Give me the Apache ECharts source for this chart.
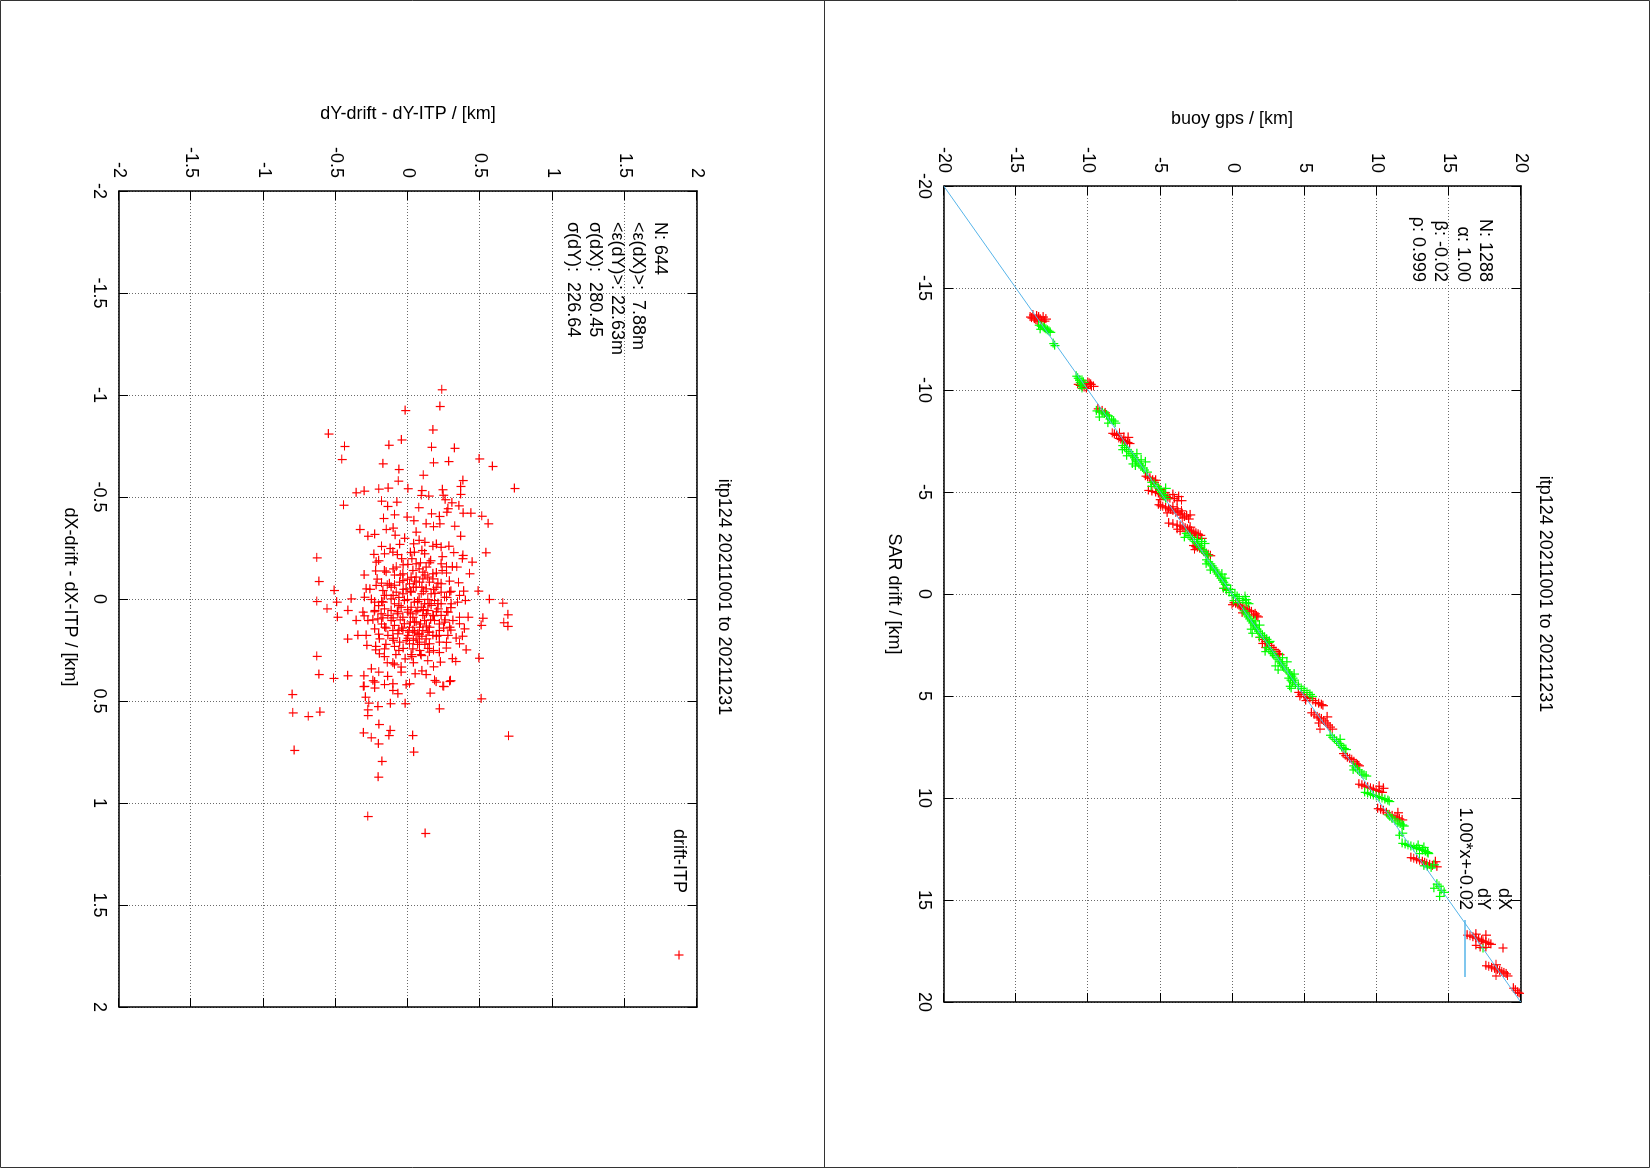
<!DOCTYPE html>
<html>
<head>
<meta charset="utf-8">
<script src="https://cdn.jsdelivr.net/npm/echarts@6/dist/echarts.min.js"></script>
<style>
html,body{margin:0;padding:0;background:#fff;overflow:hidden;width:1650px;height:1168px;}
#page{position:absolute;left:0;top:0;width:1168px;height:1650px;transform-origin:0 0;transform:translate(1650px,0) rotate(90deg);background:#fff;}
</style>
</head>
<body>
<div id="page"></div>
<script>
// ---------------- DATA ----------------
const titleText = "itp124 20211001 to 20211231";
const topTicks = [-20, 20, 5];
const bottomTicks = [-2, 2, 0.5];
const topStats = ["N: 1288", "\u03b1: 1.00", "\u03b2: -0.02", "\u03c1: 0.999"];
const bottomStats = ["N: 644", "<\u03b5(dX)>:  7.88m", "<\u03b5(dY)>: 22.63m", "\u03c3(dX):  280.45", "\u03c3(dY):  226.64"];
const topLegend = ["dX", "dY", "1.00*x+-0.02"];
const bottomLegend = ["drift-ITP"];
// fit line y = 1.00*x - 0.02 (endpoints)
const fitLine = [[-20, -20.02], [20, 19.98]];
// SAR drift (x) vs buoy gps (y), dX series
const dXPts = [
[-13.6,-14.0],[-13.5,-13.7],[-13.6,-13.4],[-13.4,-13.2],[-13.5,-12.9],[-13.7,-13.8],[-13.4,-13.5],
[-13.55,-13.9],[-13.45,-13.6],[-13.5,-13.3],[-13.6,-13.1],[-13.4,-13.0],[-13.65,-13.55],
[-10.3,-10.7],[-10.2,-10.4],[-10.1,-10.1],[-10.3,-9.8],[-10.2,-9.6],[-10.4,-10.0],
[-10.25,-10.55],[-10.15,-10.25],[-10.35,-9.9],[-10.2,-9.75],[-10.3,-10.2],
[-9.1,-9.3],[-9.0,-9.0],[-8.9,-8.8],
[-7.9,-8.3],[-7.8,-8.0],[-7.6,-7.7],[-7.5,-7.4],[-7.4,-7.1],[-7.7,-7.5],[-7.9,-7.8],
[-7.85,-8.15],[-7.65,-7.85],[-7.55,-7.55],[-7.45,-7.25],[-7.7,-7.2],
[-5.8,-6.0],[-5.7,-5.7],[-5.5,-5.4],[-5.6,-5.5],[-5.75,-5.85],[-5.6,-5.3],
[-5.1,-5.8],[-5.0,-5.3],[-4.9,-4.9],[-4.8,-4.6],[-4.7,-4.3],[-4.9,-4.1],[-4.6,-3.8],[-4.6,-3.5],[-5.0,-4.7],
[-5.05,-5.55],[-4.95,-5.1],[-4.85,-4.75],[-4.75,-4.45],[-4.7,-4.0],[-4.8,-3.7],[-4.65,-5.0],[-5.15,-5.0],
[-4.4,-5.1],[-4.3,-4.8],[-4.2,-4.4],[-4.1,-4.1],[-4.0,-3.9],[-3.9,-3.6],[-3.8,-3.3],[-3.7,-3.0],[-4.1,-3.5],[-4.0,-4.5],[-3.9,-2.9],
[-4.35,-4.95],[-4.25,-4.6],[-4.15,-4.25],[-4.05,-3.75],[-3.95,-3.45],[-3.85,-3.15],[-4.2,-3.8],[-3.75,-3.45],[-4.3,-4.1],
[-3.5,-4.4],[-3.4,-3.8],[-3.3,-3.4],[-3.2,-3.1],[-3.1,-2.8],[-3.0,-2.5],[-2.9,-2.2],[-2.8,-2.6],[-3.3,-2.9],[-3.1,-3.6],
[-3.45,-4.1],[-3.35,-3.6],[-3.25,-3.25],[-3.15,-2.95],[-3.05,-2.65],[-2.95,-2.35],[-2.75,-2.1],[-3.2,-3.8],[-2.9,-2.8],
[-2.4,-2.7],[-2.3,-2.4],[-2.2,-2.1],[-2.0,-1.8],[-1.9,-1.5],
[-2.35,-2.55],[-2.25,-2.25],[-2.1,-1.95],[-1.95,-1.65],[-2.2,-2.6],
[-0.3,-0.6],[-0.25,-0.4],
[0.4,0.1],[0.5,0.4],[0.6,0.6],[0.7,0.9],[0.8,1.2],[1.0,1.5],[1.1,1.8],[0.9,0.7],
[0.45,0.25],[0.55,0.5],[0.65,0.75],[0.75,1.05],[0.85,1.35],[0.95,1.6],[1.05,1.7],[0.5,0.0],
[2.1,1.9],[2.3,2.3],[2.5,2.6],[2.7,2.9],[2.9,3.2],[2.4,2.1],
[2.2,2.1],[2.4,2.45],[2.6,2.75],[2.8,3.05],[2.95,3.3],[2.6,2.3],
[4.8,4.6],[5.0,5.0],[5.1,5.4],[5.3,5.8],[5.4,6.2],[5.2,5.1],
[4.9,4.8],[5.05,5.2],[5.2,5.6],[5.35,6.0],[5.45,6.3],[5.0,4.7],
[5.8,5.5],[6.0,5.9],[6.1,6.2],[6.3,6.5],[6.5,6.8],[6.0,6.6],[6.6,6.1],
[5.9,5.7],[6.05,6.05],[6.2,6.35],[6.4,6.65],[6.6,6.95],[6.3,6.0],
[7.8,7.7],[8.0,8.0],[8.1,8.3],[8.3,8.6],[8.4,8.8],
[7.9,7.85],[8.05,8.15],[8.2,8.45],[8.35,8.7],
[9.3,8.8],[9.4,9.2],[9.5,9.6],[9.6,10.0],[9.7,10.4],[9.4,10.2],
[9.35,9.0],[9.45,9.4],[9.55,9.8],[9.65,10.2],[9.5,10.5],
[10.5,10.1],[10.6,10.5],[10.8,10.9],[10.9,11.3],[11.0,11.6],[10.7,11.5],
[10.55,10.3],[10.7,10.7],[10.85,11.1],[10.95,11.45],[11.05,11.8],
[12.9,12.4],[13.0,12.8],[13.1,13.2],[13.2,13.5],[13.3,13.9],[13.1,14.1],
[12.95,12.6],[13.05,13.0],[13.15,13.35],[13.25,13.7],[13.35,14.2],
[16.7,16.3],[16.8,16.7],[16.9,17.1],[17.0,17.4],[17.1,17.8],[17.2,16.9],[17.3,17.6],[16.7,17.6],
[16.75,16.5],[16.85,16.9],[16.95,17.3],[17.05,17.6],[17.15,17.95],[16.65,16.9],[17.3,17.2],
[18.2,17.6],[18.3,18.0],[18.4,18.4],[18.5,18.7],[18.6,19.0],[18.7,18.3],
[18.25,17.8],[18.35,18.2],[18.45,18.55],[18.55,18.85],[18.7,19.1],[18.15,18.3],
[19.3,19.5],[19.5,19.8],[19.4,19.65],[19.55,19.9]
];
// dY series
const dYPts = [
[-13.2,-13.4],[-13.1,-13.1],[-13.0,-12.9],[-12.9,-12.7],[-13.0,-13.3],
[-13.15,-13.25],[-13.05,-13.0],[-12.95,-12.8],[-12.85,-12.6],
[-12.3,-12.4],[-12.2,-12.3],
[-10.7,-10.8],[-10.5,-10.6],[-10.3,-10.5],[-10.1,-10.4],[-10.4,-10.3],
[-10.6,-10.7],[-10.4,-10.55],[-10.2,-10.45],[-10.5,-10.4],
[-9.0,-9.4],[-8.9,-9.0],[-8.8,-8.7],[-8.6,-8.5],[-8.5,-8.2],[-8.7,-9.2],[-8.4,-8.6],
[-8.95,-9.2],[-8.85,-8.85],[-8.75,-8.6],[-8.55,-8.35],[-8.4,-8.1],
[-7.3,-7.6],[-7.1,-7.3],[-6.9,-7.0],[-6.7,-6.8],[-6.5,-6.6],[-6.3,-6.3],[-6.1,-6.1],[-6.0,-5.9],[-6.8,-7.3],[-6.4,-6.9],[-6.6,-6.3],
[-7.2,-7.45],[-7.0,-7.15],[-6.8,-6.9],[-6.6,-6.7],[-6.4,-6.45],[-6.2,-6.2],[-7.1,-7.6],[-6.9,-6.6],[-6.5,-6.0],[-6.3,-6.7],
[-5.5,-5.6],[-5.3,-5.2],[-5.1,-5.0],[-4.9,-4.8],[-4.7,-4.6],[-5.2,-4.6],
[-5.4,-5.4],[-5.2,-5.1],[-5.0,-4.9],[-4.8,-4.7],[-5.3,-5.6],
[-3.0,-3.2],[-2.8,-2.9],[-2.6,-2.6],[-2.4,-2.3],[-2.2,-2.1],[-2.0,-1.8],[-2.5,-1.9],[-2.7,-2.4],
[-2.9,-3.05],[-2.7,-2.75],[-2.5,-2.45],[-2.3,-2.2],[-2.1,-1.95],[-1.9,-1.7],[-2.6,-2.1],[-2.8,-3.3],
[-1.7,-1.8],[-1.5,-1.5],[-1.3,-1.3],[-1.1,-1.1],[-0.9,-0.9],[-0.7,-0.7],[-0.5,-0.5],[-1.2,-1.5],[-0.8,-0.5],
[-1.6,-1.65],[-1.4,-1.4],[-1.2,-1.2],[-1.0,-1.0],[-0.8,-0.8],[-0.6,-0.6],[-0.45,-0.4],[-1.5,-1.8],[-1.0,-0.7],
[-0.3,-0.6],[-0.1,-0.2],[0.0,0.2],[0.2,0.5],[0.4,1.0],[0.1,0.9],[0.3,0.1],
[-0.2,-0.4],[0.05,0.0],[0.1,0.35],[0.3,0.75],[0.45,1.15],[0.25,0.95],[0.4,0.4],[-0.25,-0.1],
[0.8,0.8],[1.0,1.0],[1.2,1.2],[1.4,1.4],[1.6,1.6],[1.8,1.8],[2.0,2.1],[2.2,2.4],[2.3,2.6],[1.5,1.9],[1.9,1.4],
[0.9,0.9],[1.1,1.1],[1.3,1.3],[1.5,1.5],[1.7,1.7],[1.9,1.95],[2.1,2.25],[2.35,2.55],[1.3,1.6],[1.7,1.3],[2.1,1.9],
[2.6,2.4],[2.8,2.7],[3.0,2.9],[3.2,3.2],[3.4,3.4],[3.6,3.6],[3.8,3.9],[4.0,4.1],[4.2,4.3],[3.3,3.8],[3.7,3.2],
[2.7,2.55],[2.9,2.8],[3.1,3.05],[3.3,3.3],[3.5,3.5],[3.7,3.75],[3.9,4.0],[4.1,4.2],[3.1,3.5],[3.5,3.0],[3.9,4.3],[2.8,2.3],
[4.1,3.9],[4.3,4.2],[4.5,4.6],[4.7,5.0],[4.9,5.4],[4.6,4.1],
[4.2,4.05],[4.4,4.4],[4.6,4.8],[4.8,5.2],[5.0,5.55],[4.5,4.0],
[6.9,6.8],[7.1,7.1],[7.3,7.4],[7.5,7.6],[7.6,7.9],
[7.0,6.95],[7.2,7.25],[7.4,7.5],[7.55,7.75],[7.1,7.5],
[8.4,8.4],[8.6,8.7],[8.8,9.0],[8.9,9.3],
[8.5,8.55],[8.7,8.85],[8.85,9.15],[8.6,8.4],
[9.7,9.2],[9.8,9.6],[9.9,10.0],[10.0,10.4],[10.1,10.8],
[9.75,9.4],[9.85,9.8],[9.95,10.2],[10.05,10.6],[10.15,10.9],
[10.8,10.8],[11.0,11.1],[11.2,11.5],[11.3,11.8],
[10.9,10.95],[11.1,11.3],[11.25,11.65],[11.35,11.9],
[11.7,11.8],[11.8,11.6],
[12.2,11.8],[12.3,12.2],[12.4,12.6],[12.5,13.0],[12.6,13.4],[12.7,13.6],[12.4,13.3],
[12.25,12.0],[12.35,12.4],[12.45,12.8],[12.55,13.2],[12.65,13.55],[12.3,12.9],[12.7,13.0],
[13.3,13.3],[13.4,13.8],[13.35,13.55],[13.25,14.0],
[14.2,14.2],[14.5,14.5],[14.8,14.4],[14.3,14.35],[14.6,14.7],[14.4,14.0]
];
// drift - ITP differences [dX, dY] in km
const diffPts = [
[-1.028,0.237],[-0.946,0.224],[-0.926,-0.016],[-0.831,0.175],[-0.811,-0.547],[-0.782,-0.042],[-0.750,-0.436],[-0.756,-0.129],[-0.746,0.166],[-0.741,0.325],[-0.686,-0.455],[-0.670,0.180],[-0.676,0.284],[-0.689,0.496],[-0.652,0.588],[-0.665,-0.171],[-0.637,-0.060],[-0.609,0.109],[-0.580,-0.064],[-0.583,0.383],[-0.554,0.367],[-0.544,0.740],[-0.523,-0.355],[-0.531,-0.300],[-0.541,-0.199],[-0.546,-0.134],[-0.543,0.002],[-0.534,0.099],[-0.510,0.095],[-0.507,0.147],[-0.538,0.242],[-0.511,0.247],[-0.515,0.367],[-0.462,-0.443],[-0.482,-0.180],[-0.456,-0.138],[-0.477,-0.074],[-0.450,0.078],[-0.489,0.261],[-0.474,0.307],[-0.459,0.355],[-0.445,0.279],[-0.397,-0.166],[-0.415,-0.090],[-0.404,-0.002],[-0.386,0.044],[-0.420,0.166],[-0.407,0.221],[-0.428,0.272],[-0.423,0.385],[-0.423,0.438],[-0.408,0.514],[-0.371,0.558],[-0.343,-0.330],[-0.343,-0.147],[-0.371,0.129],[-0.357,0.180],[-0.371,0.224],[-0.359,0.327],[-0.319,-0.228],[-0.310,-0.274],[-0.315,-0.085],[-0.310,0.367],
[-0.204,-0.628],[-0.229,0.542],[-0.088,-0.614],[-0.044,-0.508],[0.010,-0.628],[0.013,-0.490],[0.046,-0.557],[0.087,-0.485],[0.054,-0.413],[-0.003,-0.390],[0.000,0.567],[0.018,0.659],[0.075,0.694],[0.114,0.666],[0.132,0.694],[0.092,0.521],[0.127,0.510],[-0.041,0.489],[0.288,0.494],[0.304,0.334],[0.247,0.406],[0.279,-0.628],[0.368,-0.614],[0.387,-0.512],[0.374,-0.415],[0.194,-0.415],[0.176,-0.344],[0.225,-0.281],[0.374,-0.302],[0.398,-0.240],[0.356,-0.199],[0.377,-0.138],[0.413,-0.101],[0.426,-0.300],[0.434,-0.228],[0.312,-0.101],[0.331,-0.044],[0.291,-0.016],[0.364,0.053],[0.368,0.129],[0.397,0.187],[0.307,0.228],[0.398,0.297],[0.426,0.245],[0.418,-0.009],[0.270,0.025],[0.275,0.095],[0.266,-0.194],[0.247,-0.221],[0.242,-0.159],[0.230,-0.090],[0.242,0.037],[0.176,0.175],[0.176,0.279],[0.144,0.394],[0.087,0.360],[0.087,0.420],[0.013,0.346],[0.005,0.401],[-0.036,0.291],[-0.041,0.388],[-0.082,0.353],[-0.126,0.429],[-0.159,0.341],[-0.183,0.447],[-0.216,0.383],[-0.175,0.233],[-0.142,0.240],[-0.261,0.286],[-0.256,0.233],[-0.261,0.175],[-0.224,0.118],[-0.232,0.048],[-0.273,0.042],[-0.270,-0.055],[-0.232,-0.101],[-0.224,-0.159],[-0.221,-0.233],[-0.183,-0.217],[-0.134,-0.148],[-0.159,-0.078],[-0.172,0.002],[-0.175,0.060],[-0.159,0.129],[-0.126,0.175],[-0.101,0.106],[-0.109,0.025],[-0.085,-0.055],[-0.077,-0.125],[-0.069,-0.217],[-0.052,-0.286],[-0.011,-0.298],[0.013,-0.228],[-0.020,-0.147],[-0.036,-0.078],[-0.052,-0.009],[-0.060,0.060],[-0.052,0.129],[-0.060,0.199],[-0.011,0.256],[0.005,0.187],[0.021,0.118],[0.013,0.048],[0.005,-0.021],[0.021,-0.090],[0.046,-0.159],[0.054,-0.228],[0.062,-0.309],[0.103,-0.355],[0.103,-0.274],[0.095,-0.205],[0.078,-0.136],[0.070,-0.067],[0.062,0.002],[0.054,0.071],[0.054,0.141],[0.046,0.210],[0.062,0.279],[0.111,0.256],[0.103,0.187],[0.103,0.118],[0.111,0.048],[0.119,-0.021],[0.127,-0.090],[0.136,-0.159],[0.144,-0.228],[0.176,-0.136],[0.168,-0.067],[0.176,0.002],[0.168,0.071],[0.160,0.141],[0.152,0.221],[0.136,0.291],[0.119,0.360],[0.209,-0.055],[0.217,0.014],[0.209,0.083],[0.217,0.152],[0.209,0.221],[0.250,0.083],[0.258,0.152],[0.356,-0.044],[0.193,-0.194],[0.176,-0.286],[0.238,0.268],[0.189,0.337],[0.217,0.360],
[-0.093,-0.032],[-0.077,0.014],[-0.085,0.083],[-0.085,0.152],[-0.028,-0.032],[-0.036,0.025],[-0.028,0.095],[-0.028,0.164],[0.038,-0.044],[0.038,0.025],[0.038,0.095],[0.029,0.164],[0.087,-0.032],[0.087,0.037],[0.078,0.106],[0.078,0.175],[0.136,0.014],[0.136,0.083],[0.136,0.152],[0.176,0.221],[-0.060,-0.113],[-0.003,-0.113],[0.054,-0.113],[0.103,-0.113],[-0.044,-0.171],[0.013,-0.171],[0.070,-0.182],[-0.126,-0.032],[-0.142,0.037],[-0.134,0.106],[-0.101,0.175],[-0.077,0.233],[-0.036,0.233],[0.021,0.233],[0.078,0.233],[0.021,0.302],[0.103,0.314],[0.152,-0.101],[0.152,-0.032],[0.152,0.037],[0.152,0.106],[0.201,-0.009],[0.193,0.060],[0.193,0.129],
[-0.12,-0.05],[-0.10,0.00],[-0.11,0.06],[-0.12,0.12],[-0.13,0.20],[-0.07,-0.09],[-0.05,-0.03],[-0.06,0.04],[-0.04,0.11],[-0.05,0.18],[-0.01,-0.06],[0.00,0.00],[0.01,0.07],[0.00,0.14],[0.02,0.21],[0.06,-0.07],[0.05,0.00],[0.06,0.06],[0.07,0.13],[0.06,0.20],[0.10,-0.05],[0.11,0.02],[0.12,0.09],[0.10,0.16],[0.12,0.22],[0.15,-0.06],[0.16,0.01],[0.17,0.08],[0.16,0.15],[0.18,0.10],[-0.15,-0.10],[-0.18,0.09],[-0.20,-0.04],[-0.19,0.16],[0.20,0.04],[0.22,0.12],[0.24,-0.03],[0.25,0.18],[-0.02,-0.16],[0.03,-0.20],[0.09,-0.17],[-0.08,-0.18],[0.14,-0.15],[0.19,-0.10],[-0.16,0.27],[-0.04,0.30],[0.06,0.27],[0.14,0.25],[0.22,-0.15],[-0.23,0.02],[-0.25,-0.12],[0.28,0.03],[0.30,0.14],[-0.09,0.29],[0.00,-0.25],[0.10,-0.24],[-0.14,-0.22],[0.27,-0.08],[0.31,-0.14],[-0.28,0.12],
[-0.30,-0.02],[-0.29,0.08],[-0.27,0.20],[-0.26,-0.18],[-0.24,0.10],[-0.22,-0.07],[-0.21,0.24],[-0.20,0.03],[-0.19,-0.20],[-0.18,0.15],[-0.17,-0.03],[-0.16,0.31],[-0.15,0.08],[-0.14,-0.16],[-0.13,0.27],[-0.12,-0.09],[-0.11,0.14],[-0.10,-0.21],[-0.09,0.05],[-0.08,0.21],[-0.07,-0.14],[-0.06,0.10],[-0.05,-0.26],[-0.04,0.02],[-0.03,0.19],[-0.02,-0.10],[-0.01,0.27],[0.00,0.08],[0.01,-0.18],[0.02,0.15],[0.03,-0.06],[0.04,0.30],[0.05,0.11],[0.06,-0.23],[0.07,0.02],[0.08,0.18],[0.09,-0.10],[0.10,0.26],[0.11,0.06],[0.12,-0.18],[0.13,0.13],[0.14,-0.04],[0.15,0.30],[0.16,0.05],[0.17,-0.20],[0.18,0.20],[0.19,0.00],[0.20,-0.10],[0.21,0.27],[0.22,0.07],[0.23,-0.22],[0.24,0.14],[0.25,-0.06],[0.26,0.22],[0.27,0.09],[0.28,-0.16],[0.29,0.31],[0.31,0.04],[0.32,-0.09],[0.33,0.18],[-0.23,0.32],[-0.33,0.06],[-0.35,-0.10],[0.34,-0.25],[0.35,0.10],[-0.02,0.36],[0.08,-0.30],[-0.12,-0.30],[0.18,0.38],[-0.20,0.38],
[0.466,-0.798],[0.556,-0.794],[0.574,-0.687],[0.552,-0.607],[0.740,-0.784],[0.427,-0.305],[0.479,-0.291],[0.508,-0.268],[0.541,-0.275],[0.569,-0.275],[0.525,-0.205],[0.613,-0.198],[0.654,-0.305],[0.678,-0.251],[0.708,-0.201],[0.642,-0.120],[0.667,-0.129],[0.794,-0.178],[0.871,-0.203],[1.064,-0.275],[1.147,0.122],[0.667,0.035],[0.748,0.042],[0.536,0.221],[0.459,0.157],[0.487,0.510],[0.670,0.699],[0.511,-0.118],[0.511,-0.016],[0.462,-0.067],[0.446,-0.101],[0.417,-0.159],[0.405,-0.228],[0.413,0.014],[0.405,0.198],[0.427,0.251],[0.402,0.291]
];

// ---------------- STYLE ----------------
const FONT_FAMILY = '"Liberation Sans", Arial, sans-serif';
const FS = 18;
const FONT = FS + 'px ' + FONT_FAMILY;
const RED = '#ff0000', GREEN = '#00ff00', BLUE = '#56b4e9';
const PLUS = 'path://M0,4.4H9V5.6H0Z M4.4,0H5.6V9H4.4Z';

const grids = [
  {left: 186, top: 129, width: 816, height: 577},
  {left: 191, top: 953, width: 816, height: 578}
];

function mainAxis(gridIndex, pos, t, isX) {
  return {
    type: 'value', gridIndex: gridIndex, position: pos,
    min: t[0], max: t[1], interval: t[2],
    axisLine: {show: true, onZero: false, lineStyle: {color: '#000', width: 1.5}},
    axisTick: {show: true, inside: true, length: 9, lineStyle: {color: '#000', width: 1}},
    axisLabel: {show: true, color: '#000', fontFamily: FONT_FAMILY, fontSize: FS, margin: isX ? 11 : 13},
    splitLine: {show: true, lineStyle: {color: '#6a6a6a', width: 1, type: [1, 2]}}
  };
}
function mirrorAxis(gridIndex, pos, t) {
  return {
    type: 'value', gridIndex: gridIndex, position: pos,
    min: t[0], max: t[1], interval: t[2],
    axisLine: {show: true, onZero: false, lineStyle: {color: '#000', width: 1.5}},
    axisTick: {show: true, inside: true, length: 9, lineStyle: {color: '#000', width: 1}},
    axisLabel: {show: false},
    splitLine: {show: false}
  };
}

function txt(x, y, s, align, vAlign, rot) {
  return {
    type: 'text', x: x, y: y, rotation: rot || 0, z: 100,
    style: {text: s, font: FONT, fill: '#000', align: align, verticalAlign: vAlign}
  };
}
function plusMark(cx, cy, color) {
  return {
    type: 'group', x: cx, y: cy, z: 100,
    children: [
      {type: 'rect', shape: {x: -4.5, y: -0.6, width: 9, height: 1.2}, style: {fill: color}},
      {type: 'rect', shape: {x: -0.6, y: -4.5, width: 1.2, height: 9}, style: {fill: color}}
    ]
  };
}

const graphics = [
  {type: 'rect', shape: {x: 0.5, y: 0.5, width: 1167, height: 1649}, style: {fill: 'none', stroke: '#333', lineWidth: 1}, z: 100},
  {type: 'line', shape: {x1: 0, y1: 825.5, x2: 1168, y2: 825.5}, style: {stroke: '#333', lineWidth: 1}, z: 100},
  // titles and axis names
  txt(594, 105, titleText, 'center', 'middle'),
  txt(597, 926, titleText, 'center', 'middle'),
  txt(594, 756, 'SAR drift / [km]', 'center', 'middle'),
  txt(597, 1580, 'dX-drift - dX-ITP / [km]', 'center', 'middle'),
  txt(119, 418, 'buoy gps / [km]', 'center', 'middle', Math.PI / 2),
  txt(114, 1242, 'dY-drift - dY-ITP / [km]', 'center', 'middle', Math.PI / 2),
  // legends
  txt(910, 146, topLegend[0], 'right', 'middle'),
  txt(910, 167, topLegend[1], 'right', 'middle'),
  txt(910, 185, topLegend[2], 'right', 'middle'),
  plusMark(948, 147, RED),
  plusMark(948, 167, GREEN),
  {type: 'line', shape: {x1: 920, y1: 185, x2: 977, y2: 185}, style: {stroke: BLUE, lineWidth: 1.5}, z: 100},
  txt(893, 971, bottomLegend[0], 'right', 'middle'),
  plusMark(955, 971, RED)
];
const topStatY = [165, 187.5, 210, 232.5];
topStats.forEach((s, i) => graphics.push(txt(282, topStatY[i], s, 'right', 'middle')));
const botStatY = [990, 1012, 1033, 1055, 1077];
bottomStats.forEach((s, i) => graphics.push(txt(222, botStatY[i], s, 'left', 'middle')));

const chart = echarts.init(document.getElementById('page'), null, {renderer: 'canvas', width: 1168, height: 1650});
chart.setOption({
  animation: false,
  backgroundColor: '#fff',
  grid: grids,
  xAxis: [
    mainAxis(0, 'bottom', topTicks, true), mirrorAxis(0, 'top', topTicks),
    mainAxis(1, 'bottom', bottomTicks, true), mirrorAxis(1, 'top', bottomTicks)
  ],
  yAxis: [
    mainAxis(0, 'left', topTicks, false), mirrorAxis(0, 'right', topTicks),
    mainAxis(1, 'left', bottomTicks, false), mirrorAxis(1, 'right', bottomTicks)
  ],
  series: [
    {type: 'scatter', xAxisIndex: 0, yAxisIndex: 0, data: dXPts, symbol: PLUS, symbolSize: 9, itemStyle: {color: RED, opacity: 1}, z: 3},
    {type: 'scatter', xAxisIndex: 0, yAxisIndex: 0, data: dYPts, symbol: PLUS, symbolSize: 9, itemStyle: {color: GREEN, opacity: 1}, z: 4},
    {type: 'line', xAxisIndex: 0, yAxisIndex: 0, data: fitLine, symbol: 'none', lineStyle: {color: BLUE, width: 1}, z: 5, clip: true},
    {type: 'scatter', xAxisIndex: 2, yAxisIndex: 2, data: diffPts, symbol: PLUS, symbolSize: 9, itemStyle: {color: RED, opacity: 1}, z: 3}
  ],
  graphic: graphics
});
</script>
</body>
</html>
